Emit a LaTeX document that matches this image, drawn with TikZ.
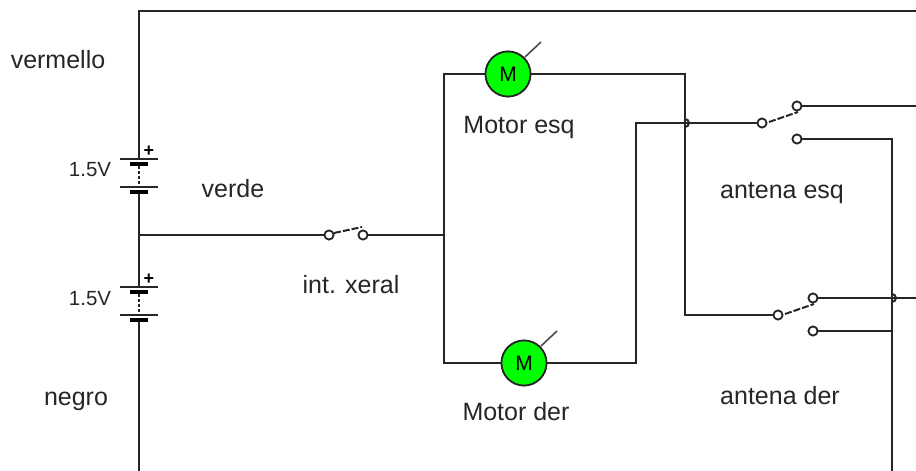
\documentclass[tikz,border=0pt]{standalone}
\usepackage{fontspec}
\setmainfont{Liberation Sans}
\tikzset{
  wire/.style={line width=2pt,color=black!85},
  term/.style={circle,draw=black!85,line width=1.7pt,fill=white,minimum size=9pt,inner sep=0pt},
  motor/.style={circle,draw=black!85,line width=1.7pt,fill={rgb,255:red,0;green,255;blue,0},minimum size=45pt,inner sep=0pt,font=\fontsize{21}{21}\selectfont},
  lab/.style={inner sep=0pt,anchor=base,text=black!85,font=\fontsize{25}{26}\selectfont},
  vlab/.style={inner sep=0pt,anchor=base,text=black!85,font=\fontsize{20.5}{21}\selectfont},
  plus/.style={inner sep=0pt,text=black,font=\bfseries\fontsize{18}{18}\selectfont},
  thinplate/.style={rectangle,fill=black!85,minimum width=38pt,minimum height=2pt,inner sep=0pt},
  thickplate/.style={rectangle,fill=black,minimum width=18pt,minimum height=4pt,inner sep=0pt},
  arm/.style={line width=2pt,color=black!85,dash pattern=on 7pt off 2pt},
  cellgap/.style={line width=2pt,color=black!85,dash pattern=on 3pt off 2pt},
  tail/.style={line width=1.6pt,color=black!70}
}
\begin{document}
\begin{tikzpicture}[x=1pt,y=-1pt]
\useasboundingbox (0,0) rectangle (916,471);
% batteries
\node[thinplate] (b1a) at (139,159) {};
\node[thickplate] (b1b) at (139,164) {};
\node[thinplate] (b1c) at (139,187) {};
\node[thickplate] (b1d) at (139,192) {};
\node[thinplate] (b2a) at (139,287) {};
\node[thickplate] (b2b) at (139,292) {};
\node[thinplate] (b2c) at (139,315) {};
\node[thickplate] (b2d) at (139,320) {};
\node[plus] (p1) at (149,151) {+};
\node[plus] (p2) at (149,279) {+};
% coordinates
\coordinate (tl) at (139,11);
\coordinate (tr) at (916,11);
\coordinate (bot) at (139,471);
\coordinate (jb) at (139,235);
\coordinate (jm) at (444,235);
\coordinate (mt) at (444,74);
\coordinate (mb) at (444,363);
\coordinate (c1) at (685,74);
\coordinate (c2) at (685,315);
\coordinate (c3) at (636,123);
\coordinate (c4) at (636,363);
\coordinate (h1) at (685,123);
\coordinate (h2) at (893,298);
\coordinate (c5) at (892,139);
\coordinate (c6) at (892,471);
\coordinate (j6) at (892,331);
\coordinate (r1) at (916,106);
\coordinate (r2) at (916,298);
\coordinate (a1) at (362,227);
\coordinate (a2) at (798,112);
\coordinate (a3) at (814,304);
\coordinate (t1) at (541,42);
\coordinate (t2) at (557,331);
% switch terminals
\node[term] (s1a) at (329,235) {};
\node[term] (s1b) at (363,235) {};
\node[term] (s2a) at (762,123) {};
\node[term] (s2b) at (797,106) {};
\node[term] (s2c) at (797,139) {};
\node[term] (s3a) at (778,315) {};
\node[term] (s3b) at (813,298) {};
\node[term] (s3c) at (813,331) {};
% motors
\node[motor] (m1) at (508,74) {M};
\node[motor] (m2) at (524,363) {M};
% wires
\draw[wire] (tr) -- (tl) -- (b1a);
\draw[wire] (b1d) -- (b2a);
\draw[wire] (b2d) -- (bot);
\draw[cellgap] (b1b) -- (b1c);
\draw[cellgap] (b2b) -- (b2c);
\draw[wire] (jb) -- (s1a);
\draw[wire] (s1b) -- (jm);
\draw[wire] (m1) -- (mt) -- (mb) -- (m2);
\draw[wire] (m1) -- (c1) -- (c2) -- (s3a);
\draw[wire] (m2) -- (c4) -- (c3) -- (s2a);
\draw[wire] (s2b) -- (r1);
\draw[wire] (s2c) -- (c5) -- (c6);
\draw[wire] (s3b) -- (r2);
\draw[wire] (s3c) -- (j6);
\draw[wire] (h1) ++(0,-4) arc[start angle=-90,end angle=90,radius=4];
\draw[wire] (h2) ++(-1,-4) arc[start angle=-90,end angle=90,radius=4];
% redraw the parts that the wires ran across
\node[term] at (s1a) {};
\node[term] at (s1b) {};
\node[term] at (s2a) {};
\node[term] at (s2b) {};
\node[term] at (s2c) {};
\node[term] at (s3a) {};
\node[term] at (s3b) {};
\node[term] at (s3c) {};
\node[motor] at (m1) {M};
\node[motor] at (m2) {M};
\draw[arm] (s1a) ++(5,-2) -- (a1);
\draw[arm] (s2a) ++(7,-1) -- (a2);
\draw[arm] (s3a) ++(7,-1) -- (a3);
\draw[tail] (m1) ++(17,-17) -- (t1);
\draw[tail] (m2) ++(17,-17) -- (t2);
% labels
\node[lab] (l1) at (58,68) {vermello};
\node[lab] (l2) at (233,197) {verde};
\node[lab] (l3) at (76,405) {negro};
\node[lab] (l4) at (351,293) {int. xeral};
\node[lab] (l5) at (519,133) {Motor esq};
\node[lab] (l6) at (516,420) {Motor der};
\node[lab] (l7) at (782,198) {antena esq};
\node[lab] (l8) at (780,404) {antena der};
\node[vlab] (v1) at (90,176) {1.5V};
\node[vlab] (v2) at (90,305) {1.5V};
\end{tikzpicture}
\end{document}
